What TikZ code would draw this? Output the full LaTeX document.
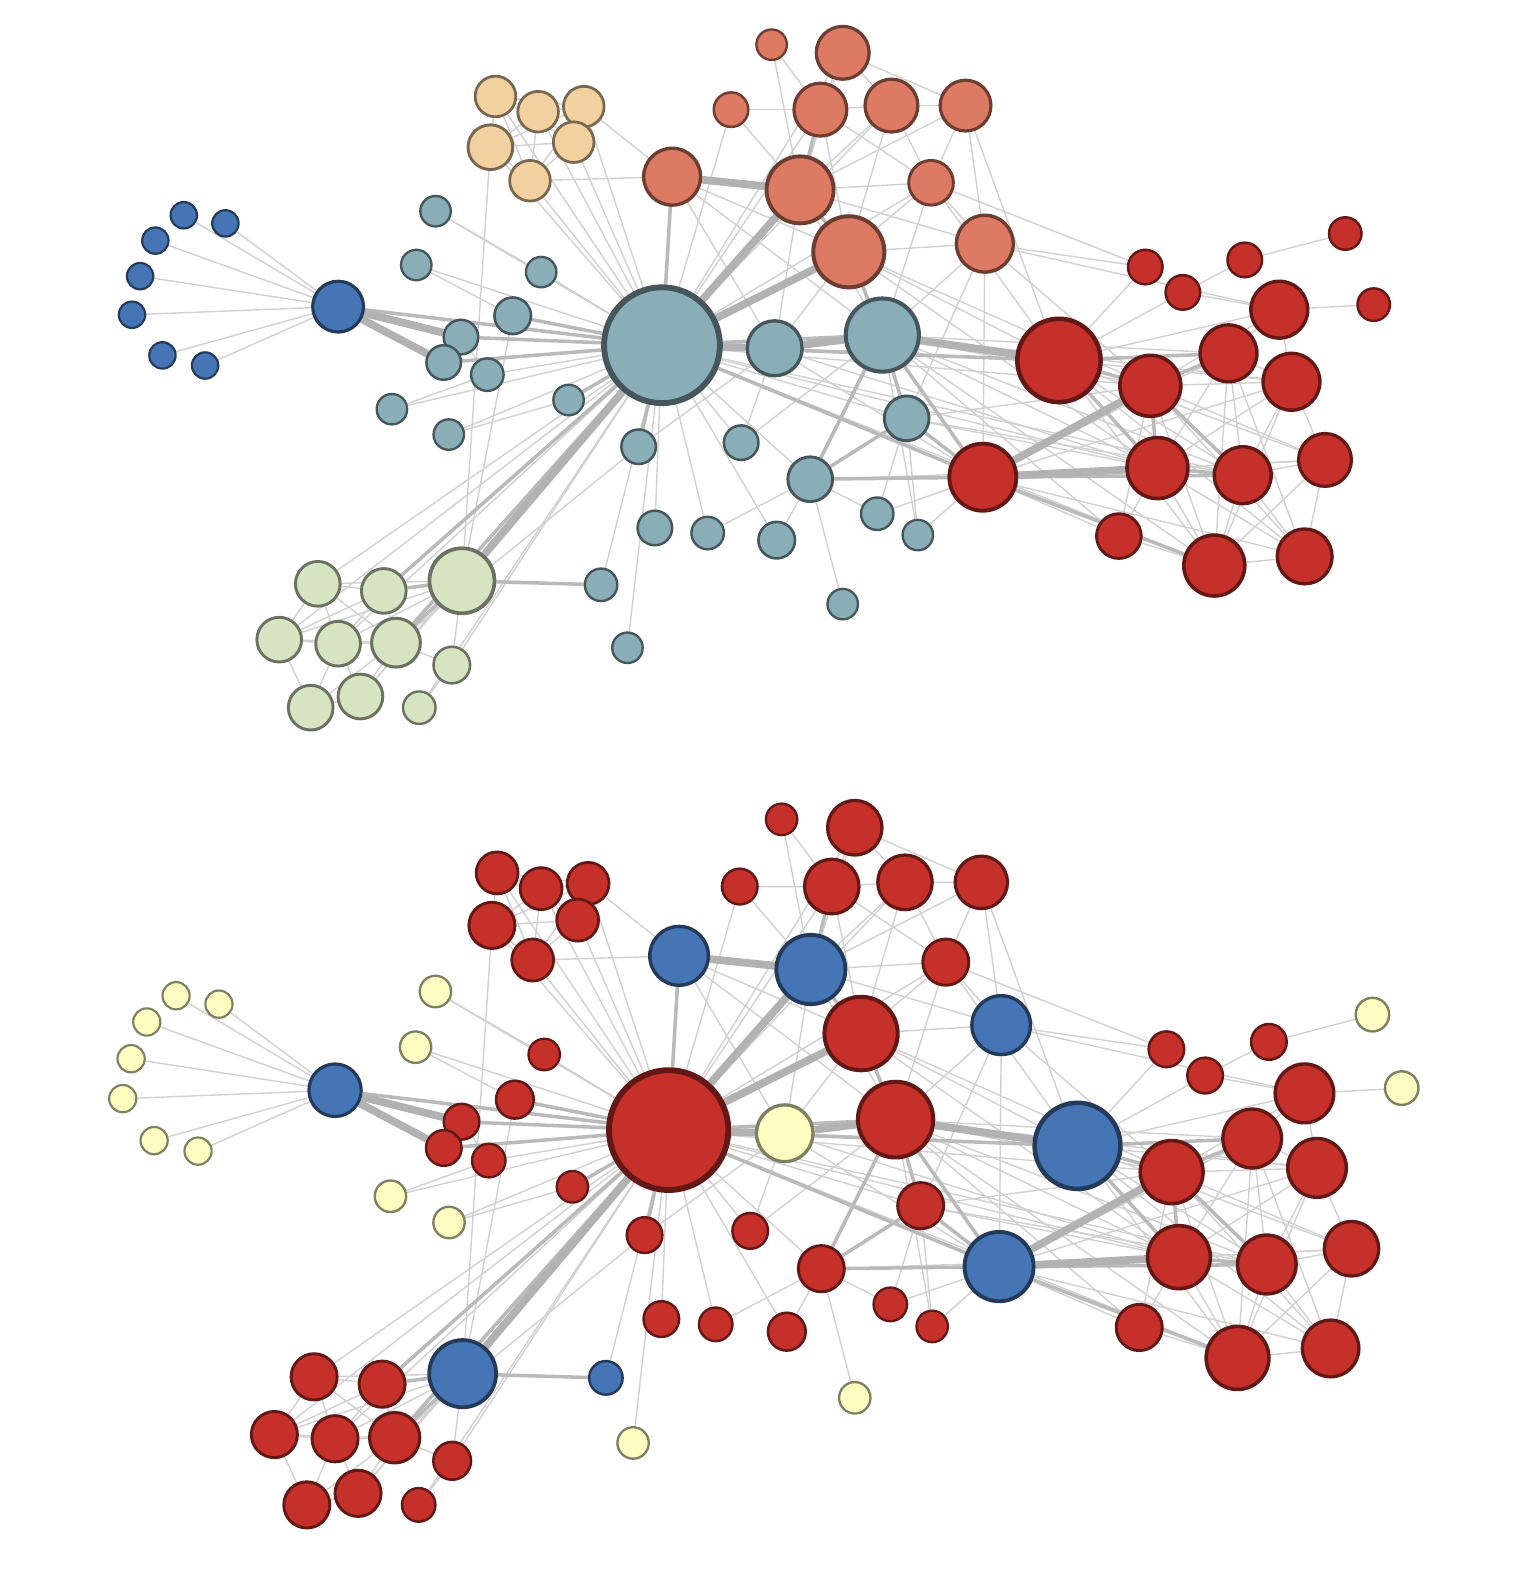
\documentclass[tikz,border=0pt]{standalone}
\usetikzlibrary{backgrounds}

\definecolor{cBlu}{HTML}{4575B4}
\definecolor{cTea}{HTML}{8AAEB8}
\definecolor{cTan}{HTML}{F2D09F}
\definecolor{cSal}{HTML}{DC7A63}
\definecolor{cRed}{HTML}{C6302A}
\definecolor{cGrn}{HTML}{D7E4C2}
\definecolor{cYel}{HTML}{FDFDC2}

% name/x/y/radius/colour top/colour bottom
\newcommand\lesnodes{%
m1/181/212/13/cBlu/cYel, m2/222/220/13/cBlu/cYel, m3/153/237/13/cBlu/cYel,
m4/138/272/13/cBlu/cYel, m5/130/310/13/cBlu/cYel, m6/160/350/13/cBlu/cYel,
m7/202/360/13/cBlu/cYel, my/333/302/25/cBlu/cBlu,
a1/429/208/15/cTea/cYel, a2/410/261/15/cTea/cYel, a3/533/268/15/cTea/cRed,
a4/505/311/18/cTea/cRed, a5/454/332/17/cTea/cRed, a6/437/357/17/cTea/cRed,
a7/480/369/16/cTea/cRed, a8/386/403/15/cTea/cYel, a9/442/428/15/cTea/cYel,
a10/560/394/15/cTea/cRed, a11/629/440/17/cTea/cRed, a12/730/436/17/cTea/cRed,
a13/645/520/17/cTea/cRed, a14/697/525/16/cTea/cRed, a15/765/532/18/cTea/cRed,
a16/798/472/22/cTea/cRed, a17/864/506/16/cTea/cRed, a18/904/527/15/cTea/cRed,
a19/893/412/22/cTea/cRed, a20/592/576/16/cTea/cBlu, a21/618/638/15/cTea/cYel,
a22/830/595/15/cTea/cYel, vj/652/340/57/cTea/cRed, a23/763/343/27/cTea/cYel,
jv/869/330/36/cTea/cRed,
t1/488/95/20/cTan/cRed, t2/530/110/20/cTan/cRed, t3/575/105/20/cTan/cRed,
t4/483/145/22/cTan/cRed, t5/565/140/20/cTan/cRed, t6/522/178/20/cTan/cRed,
s1/760/44/15/cSal/cRed, s2/830/52/26/cSal/cRed, s3/720/108/17/cSal/cRed,
s4/808/108/26/cSal/cRed, s5/878/104/26/cSal/cRed, s6/951/104/25/cSal/cRed,
s7/662/174/28/cSal/cBlu, s8/788/187/33/cSal/cBlu, s9/917/180/22/cSal/cRed,
s10/836/248/35/cSal/cRed, s11/970/240/28/cSal/cBlu,
r1/1128/263/17/cRed/cRed, r2/1165/288/17/cRed/cRed, r3/1226/256/17/cRed/cRed,
r4/1325/230/16/cRed/cYel, r5/1353/300/16/cRed/cYel, r6/1260/305/28/cRed/cRed,
r7/1043/355/41/cRed/cBlu, r8/1133/380/30/cRed/cRed, r9/1210/348/28/cRed/cRed,
r10/1272/376/28/cRed/cRed, r11/968/470/33/cRed/cBlu, r12/1140/461/30/cRed/cRed,
r13/1224/468/28/cRed/cRed, r14/1305/453/26/cRed/cRed, r15/1102/528/22/cRed/cRed,
r16/1196/557/30/cRed/cRed, r17/1285/548/27/cRed/cRed,
g1/455/572/32/cGrn/cBlu, g2/313/575/22/cGrn/cRed, g3/378/582/22/cGrn/cRed,
g4/275/630/22/cGrn/cRed, g5/333/634/22/cGrn/cRed, g6/390/633/24/cGrn/cRed,
g7/445/655/18/cGrn/cRed, g8/306/697/22/cGrn/cRed, g9/355/686/22/cGrn/cRed,
g10/413/697/16/cGrn/cRed}

\newcommand\lesheavy{%
my/a5, my/a6, vj/a23, a23/jv, jv/r7, vj/s8, vj/s10, s7/s8, vj/g1, r11/r8, r11/r12}

\newcommand\lesmid{%
my/vj, a5/vj, a6/vj, a4/vj, a5/a6, vj/s7, vj/jv, vj/r7, vj/r11, jv/r11, jv/a19,
a19/a16, jv/a16, a19/r11, a16/r11, vj/g3, vj/g6, g1/g3, g1/g6, g1/a20, r7/r8,
r7/r9, r7/r12, r8/r12, r8/r9, r12/r13, r8/r13, r11/r16, r11/r13, s8/s10, s8/s4,
s10/jv, vj/a11, vj/a10}

\newcommand\lesthin{%
my/m1, my/m2, my/m3, my/m4, my/m5, my/m6, my/m7,
a1/vj, a1/a3, a2/vj, a2/a4, a3/vj, a7/vj, a8/vj, a9/vj, a11/vj, a12/vj, a12/jv,
a13/vj, a14/vj, a14/a16, a15/a16, a15/vj, a17/a16, a17/a19, a18/a19, a18/jv,
a20/vj, a21/vj, a22/a16, a16/vj, a19/vj, a12/a23, a11/a23, a7/a5, a8/a7,
a9/a10, t4/g1, a4/g1,
t1/t2, t1/t3, t1/t4, t1/t5, t1/t6, t2/t3, t2/t4, t2/t5, t2/t6, t3/t4, t3/t5,
t3/t6, t4/t5, t4/t6, t5/t6, t1/vj, t2/vj, t3/vj, t4/vj, t5/vj, t6/vj, t3/s7,
t6/s7,
s1/s4, s1/s8, s2/s4, s2/s5, s2/s8, s2/s6, s3/s8, s3/s4, s3/vj, s4/s5, s4/s8,
s4/s10, s4/s9, s5/s6, s5/s8, s5/s9, s5/s10, s6/s9, s6/s11, s6/s8, s6/r7,
s7/s10, s7/a23, s7/jv, s8/s9, s8/s11, s8/jv, s9/s10, s9/s11, s9/r7, s10/s11,
s10/r7, s11/jv, s11/r1, s11/a19, s9/vj, s5/vj, s4/vj, s10/a23, s8/a23,
s11/r11, s9/jv, s10/r8, s10/r12, s11/r8, s11/r6, s9/r1, vj/s2,
r1/r7, r2/r7, r2/r3, r3/r4, r6/r5, r6/r7, r6/r9, r6/r10, r6/r8, r9/r10,
r9/r12, r9/r13, r10/r12, r10/r13, r10/r14, r10/r8, r8/r14, r8/r16, r8/r15,
r12/r14, r12/r16, r12/r17, r13/r14, r13/r16, r13/r17, r14/r17, r14/r16,
r15/r16, r15/r11, r16/r17, r9/r16, r10/r16, r9/r17, r11/r9, r11/r10, r11/r14,
r11/r17, r7/r10, r7/r13, r7/r16, r2/r6, jv/r8, jv/r12, jv/r9, vj/r8, vj/r12,
vj/r16, a19/r12, a19/r8, jv/r13, a23/r7, a23/r11, a18/r11, r12/r15,
jv/r10, jv/r16, jv/r15, vj/r13, a19/r13, a23/r12, r7/r14, r7/r17, r8/r17,
a16/r12, a17/r11,
g1/g2, g1/g4, g1/g5, g1/g7, g1/g9, g2/g3, g2/g4, g2/g5, g2/g6, g3/g4, g3/g5,
g3/g6, g4/g5, g4/g6, g4/g8, g5/g6, g5/g8, g5/g9, g6/g8, g6/g9, g8/g9, g6/g7,
g7/g10, vj/g2, vj/g4, vj/g5, vj/g7, vj/g9, vj/g10, a11/g6}

\begin{document}
\begin{tikzpicture}[x=0.010154cm, y=-0.010154cm,
  dot/.style={circle, inner sep=0pt, minimum size=#1*0.20308mm,
    line width=0.3pt+#1*0.024pt},
  ethin/.style={draw=black!18, line width=0.4pt},
  emid/.style={draw=black!27, line width=1pt},
  eheavy/.style={draw=black!30, line width=2.2pt}]
  \useasboundingbox (0,0) rectangle (1493,1568);

  % top graph: communities
  \begin{scope}
    \foreach \n/\x/\y/\r/\ca/\cb in \lesnodes
      \node[dot=\r, fill=\ca, draw=\ca!50!black] (t\n) at (\x,\y) {};
    \begin{scope}[on background layer]
      \foreach \a/\b in \lesthin {\draw[ethin] (t\a) -- (t\b);}
      \foreach \a/\b in \lesmid {\draw[emid] (t\a) -- (t\b);}
      \foreach \a/\b in \lesheavy {\draw[eheavy] (t\a) -- (t\b);}
    \end{scope}
  \end{scope}

  % bottom graph: same layout, other colouring
  \begin{scope}[shift={(-13,761.5)}, xscale=1.03, yscale=1.034, transform shape]
    \foreach \n/\x/\y/\r/\ca/\cb in \lesnodes
      \node[dot=\r, fill=\cb, draw=\cb!50!black] (b\n) at (\x,\y) {};
    \begin{scope}[on background layer]
      \foreach \a/\b in \lesthin {\draw[ethin] (b\a) -- (b\b);}
      \foreach \a/\b in \lesmid {\draw[emid] (b\a) -- (b\b);}
      \foreach \a/\b in \lesheavy {\draw[eheavy] (b\a) -- (b\b);}
    \end{scope}
  \end{scope}
\end{tikzpicture}
\end{document}
